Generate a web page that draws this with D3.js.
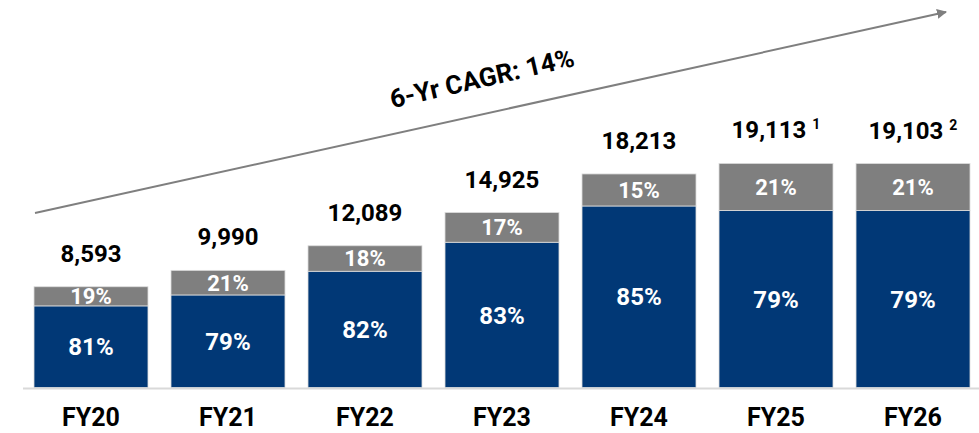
<!DOCTYPE html>
<html lang="en">
<head>
<meta charset="utf-8">
<title>6-Yr CAGR</title>
<script src="https://cdn.jsdelivr.net/npm/d3@7"></script>
<style>
  body { margin: 0; background: #fff; }
  text { font-family: Roboto, "Noto Sans", Arial, sans-serif; font-weight: bold; }
</style>
</head>
<body>
<script>
// data
var categories = ["FY20", "FY21", "FY22", "FY23", "FY24", "FY25", "FY26"];
var totals = [8593, 9990, 12089, 14925, 18213, 19113, 19103];
var bluePct = [81, 79, 82, 83, 85, 79, 79];
var grayPct = [19, 21, 18, 17, 15, 21, 21];
var notes = ["", "", "", "", "", "1", "2"];
var cagrLabel = "6-Yr CAGR: 14%";

var w = 979, h = 433;
var baseY = 387.5;

var svg = d3.select("body").append("svg")
  .attr("width", w)
  .attr("height", h);

var rows = categories.map(function(c, i) {
  var blue = totals[i] * bluePct[i] / 100;
  return { cat: c, total: totals[i], blue: blue, gray: totals[i] - blue,
           bp: bluePct[i], gp: grayPct[i], note: notes[i] };
});

var stack = d3.stack().keys(["blue", "gray"]);
var series = stack(rows);

var x = d3.scaleBand()
  .domain(categories)
  .range([34, 970])
  .paddingInner(0.168)
  .paddingOuter(0);

var y = d3.scaleLinear()
  .domain([0, 20000])
  .range([baseY, 153]);

var colors = { blue: "#013876", gray: "#7f7f7f" };

// baseline
svg.append("line")
  .attr("x1", 23).attr("x2", 979)
  .attr("y1", baseY + 1).attr("y2", baseY + 1)
  .attr("stroke", "#d9d9d9")
  .attr("stroke-width", 2);

// bars
var groups = svg.selectAll("g.layer")
  .data(series)
  .enter()
  .append("g")
  .attr("class", "layer")
  .attr("fill", function(d) { return colors[d.key]; });

groups.selectAll("rect")
  .data(function(d) { return d; })
  .enter()
  .append("rect")
  .attr("x", function(d) { return x(d.data.cat); })
  .attr("y", function(d) { return y(d[1]); })
  .attr("width", x.bandwidth())
  .attr("height", function(d) { return y(d[0]) - y(d[1]); })
  .attr("stroke", "#dcdcdc")
  .attr("stroke-width", 0.8);

// percentage labels
groups.selectAll("text")
  .data(function(d) { return d.map(function(p) { p.key = d.key; return p; }); })
  .enter()
  .append("text")
  .attr("x", function(d) { return x(d.data.cat) + x.bandwidth() / 2; })
  .attr("y", function(d) { return (y(d[0]) + y(d[1])) / 2; })
  .attr("dy", "0.36em")
  .attr("text-anchor", "middle")
  .attr("fill", "#fff")
  .style("font-size", function(d) { return d.key === "blue" ? "24px" : "22px"; })
  .text(function(d) { return (d.key === "blue" ? d.data.bp : d.data.gp) + "%"; });

// totals above bars
var tot = svg.selectAll("text.total")
  .data(rows)
  .enter()
  .append("text")
  .attr("class", "total")
  .attr("x", function(d) { return x(d.cat) + x.bandwidth() / 2; })
  .attr("y", function(d) { return y(d.total) - 25; })
  .attr("text-anchor", "middle")
  .attr("fill", "#000")
  .style("font-size", "24px");

tot.append("tspan").text(function(d) { return d3.format(",")(d.total); });
tot.filter(function(d) { return d.note; })
  .append("tspan")
  .attr("dx", 6)
  .attr("dy", -9)
  .style("font-size", "14px")
  .text(function(d) { return d.note; });

// category axis
var xAxis = d3.axisBottom(x).tickSize(0).tickPadding(21);
svg.append("g")
  .attr("transform", "translate(0," + baseY + ")")
  .call(xAxis)
  .call(function(g) { g.select(".domain").remove(); })
  .selectAll("text")
  .attr("fill", "#000")
  .style("font-size", "25px")
  .style("font-family", "Roboto, sans-serif")
  .style("font-weight", "bold");

// CAGR arrow
svg.append("defs").append("marker")
  .attr("id", "head")
  .attr("viewBox", "0 0 10 10")
  .attr("refX", 9).attr("refY", 5)
  .attr("markerWidth", 10).attr("markerHeight", 10)
  .attr("markerUnits", "userSpaceOnUse")
  .attr("orient", "auto")
  .append("path")
  .attr("d", "M0,0L10,5L0,10Z")
  .attr("fill", "#7f7f7f");

svg.append("line")
  .attr("x1", 35).attr("y1", 213)
  .attr("x2", 946).attr("y2", 12)
  .attr("stroke", "#7f7f7f")
  .attr("stroke-width", 2)
  .attr("marker-end", "url(#head)");

svg.append("text")
  .attr("transform", "translate(484,87) rotate(-13)")
  .attr("text-anchor", "middle")
  .attr("fill", "#000")
  .style("font-size", "26px")
  .text(cagrLabel);
</script>
</body>
</html>
